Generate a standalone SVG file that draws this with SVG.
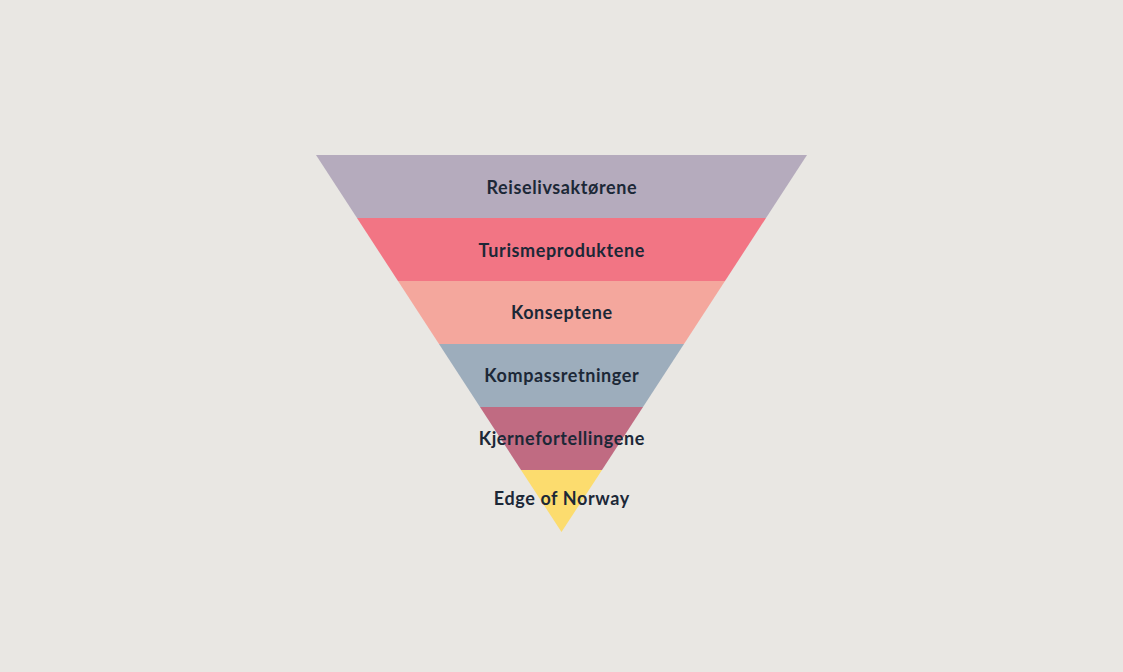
<svg xmlns="http://www.w3.org/2000/svg" width="1123" height="672" viewBox="0 0 1123 672">
<style>
.lbl{font-family:Lato,"Noto Sans","Liberation Sans",sans-serif;font-weight:700;font-size:18px;letter-spacing:0.6px;fill:#1c2837;text-anchor:middle}
</style>
<rect width="1123" height="672" fill="#e9e7e3"/>
<g id="band1"><polygon points="316,155 807,155 766,218 357,218" fill="#b5abbd"/><text class="lbl" x="561.8" y="193.5">Reiselivsaktørene</text></g>
<g id="band2"><polygon points="357,218 766,218 725,281 398,281" fill="#f27584"/><text class="lbl" x="561.8" y="256.5">Turismeproduktene</text></g>
<g id="band3"><polygon points="398,281 725,281 684,344 439,344" fill="#f4a79d"/><text class="lbl" x="561.8" y="318.5">Konseptene</text></g>
<g id="band4"><polygon points="439,344 684,344 643,407 480,407" fill="#9dadbc"/><text class="lbl" x="561.8" y="381.5">Kompassretninger</text></g>
<g id="band5"><polygon points="480,407 643,407 602,470 521,470" fill="#c06b82"/><text class="lbl" x="561.8" y="445">Kjernefortellingene</text></g>
<g id="band6"><polygon points="521,470 602,470 561.5,532" fill="#fcdc6e"/><text class="lbl" x="561.8" y="505">Edge of Norway</text></g>
<g id="connectors"/>
</svg>
